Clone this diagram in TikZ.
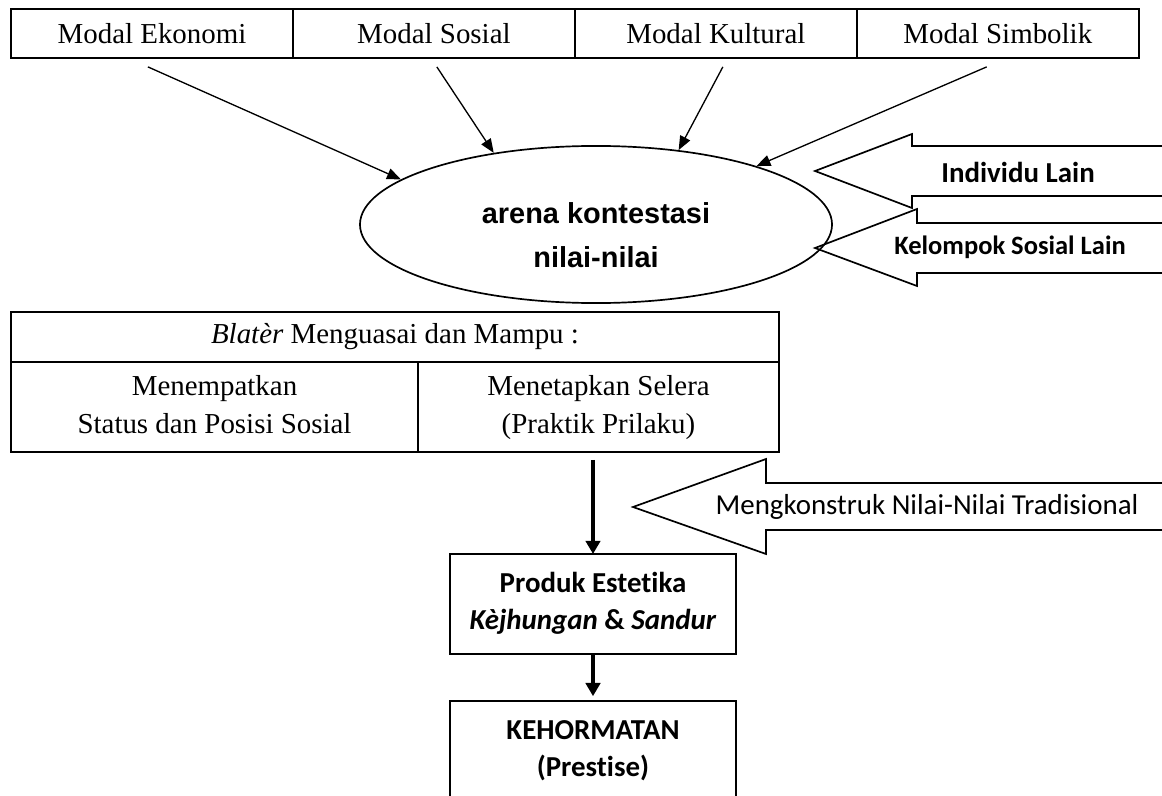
\documentclass[tikz,border=0pt]{standalone}
\usepackage{fontspec}
\setmainfont{Liberation Serif}
\newfontfamily\calibri[Ligatures=NoCommon]{Carlito}
\newfontfamily\arial{Liberation Sans}
\usetikzlibrary{positioning,calc,arrows.meta,shapes.geometric}

\tikzset{
  modal/.style={draw, rectangle, line width=1pt, outer sep=0pt, inner sep=0pt, minimum width=117pt, minimum height=20.3pt, font=\fontsize{12}{14}\selectfont},
  cell/.style={draw, rectangle, line width=1pt, outer sep=0pt, inner sep=0pt, minimum height=37.35pt, align=center, font=\fontsize{12}{15.8}\selectfont},
  hasil/.style={draw, rectangle, line width=0.9pt, outer sep=0pt, minimum width=118.7pt, minimum height=41.5pt, align=center, font=\calibri\bfseries\fontsize{12}{15.4}\selectfont},
  tipis/.style={-{Triangle[length=5.8pt,width=4.6pt]}, line width=0.55pt},
  tebal/.style={-{Triangle[length=5.5pt,width=6pt]}, line width=1.7pt},
  panah/.style={draw, line width=0.7pt, line join=miter},
}

\begin{document}
\begin{tikzpicture}[x=0.415pt, y=-0.415pt]
    \useasboundingbox (0,0) rectangle (1162,796);

    % modal
    \node[modal] (ekonomi) at (152,33.5) {Modal Ekonomi};
    \node[modal, right=0pt of ekonomi] (sosial) {Modal Sosial};
    \node[modal, right=0pt of sosial] (kultural) {Modal Kultural};
    \node[modal, right=0pt of kultural] (simbolik) {Modal Simbolik};

    % arena
    \node[draw, ellipse, line width=0.7pt, inner sep=0pt, minimum width=195.9pt, minimum height=65.2pt] (arena) at (596,224.5) {};
    \node[align=center, font=\arial\bfseries\fontsize{12}{18.3}\selectfont] (arenateks) at (596,235) {arena kontestasi\\nilai-nilai};

    \draw[tipis] ([xshift=-1.7pt,yshift=-3.7pt]ekonomi.south) -- (arena.167);
    \draw[tipis] ([xshift=1.2pt,yshift=-3.7pt]sosial.south) -- (arena.145);
    \draw[tipis] ([xshift=2.9pt,yshift=-3.7pt]kultural.south) -- (arena.42);
    \draw[tipis] ([xshift=-4.6pt,yshift=-3.7pt]simbolik.south) -- (arena.20);

    % panah blok
    \draw[panah] (815,171) -- (912,134) -- (912,146) -- (1175,146) -- (1175,196) -- (912,196) -- (912,208) -- cycle;
    \node[font=\calibri\bfseries\fontsize{12}{14}\selectfont] (individu) at (1018,172) {Individu Lain};
    \draw[panah] (815,248) -- (917,209) -- (917,223) -- (1175,223) -- (1175,273) -- (917,273) -- (917,286) -- cycle;
    \node[font=\calibri\bfseries\fontsize{11}{13}\selectfont] (kelompok) at (1010,247) {Kelompok Sosial Lain};

    % tabel
    \node[cell, minimum width=318.7pt, minimum height=20.75pt] (blater) at (395,337) {\textit{Blatèr} Menguasai dan Mampu :};
    \node[cell, minimum width=168.9pt, below right=0pt of blater.south west] (tempat) {\strut Menempatkan\\Status dan Posisi Sosial\strut};
    \node[cell, minimum width=149.8pt, right=0pt of tempat] (selera) {\strut Menetapkan Selera\\(Praktik Prilaku)\strut};

    % hasil
    \node[hasil] (produk) at (593,604) {\strut Produk Estetika\\\textit{Kèjhungan} \& \textit{Sandur}\strut};
    \node[hasil, below=19.5pt of produk] (hormat) {\strut KEHORMATAN\\(Prestise)\strut};

    \draw[tebal] ($(produk.north |- selera.south)+(0,-3.3pt)$) -- (produk.north);
    \draw[tebal] (produk) -- ([yshift=2pt]hormat.north);

    \draw[panah] (633,507) -- (766,459) -- (766,483) -- (1175,483) -- (1175,530) -- (766,530) -- (766,554) -- cycle;
    \node[font=\calibri\fontsize{12}{14}\selectfont] (konstruk) at (927,507) {Mengkonstruk Nilai-Nilai Tradisional};
\end{tikzpicture}
\end{document}
